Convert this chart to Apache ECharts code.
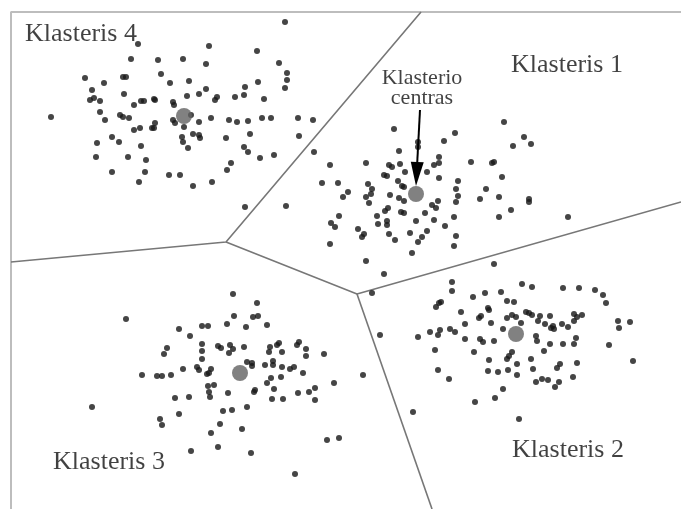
<!DOCTYPE html>
<html>
<head>
<meta charset="utf-8">
<script src="https://cdn.jsdelivr.net/npm/echarts@6/dist/echarts.min.js"></script>
<style>html,body{margin:0;padding:0;background:#fff}#c{width:681px;height:509px}</style>
</head>
<body>
<div id="c"></div>
<script>
// Canvas-like data space: x 0..681, y 0..509 (y downwards)
const cluster1 = [[394,129],[418,142],[418,147],[455,133],[444,141],[504,122],[524,137],[531,144],[513,146],[399,151],[439,157],[439,163],[434,165],[330,165],[366,163],[389,165],[392,167],[400,164],[405,172],[427,172],[471,162],[492,163],[494,162],[384,175],[387,176],[439,178],[502,177],[398,181],[322,183],[338,183],[368,184],[372,189],[371,194],[366,197],[369,203],[348,192],[343,197],[402,186],[404,187],[390,195],[399,198],[404,201],[458,181],[456,189],[458,196],[456,202],[486,189],[480,199],[499,197],[529,199],[529,202],[438,201],[432,205],[436,208],[385,211],[388,208],[401,212],[404,213],[425,213],[377,216],[454,217],[499,217],[511,210],[568,217],[387,221],[387,225],[378,224],[416,221],[434,220],[445,226],[358,229],[364,234],[362,237],[389,234],[395,240],[410,233],[427,231],[422,237],[418,242],[456,236],[454,246],[412,253],[331,223],[335,227],[339,216],[330,244],[366,261],[384,274]];
const cluster2 = [[452,282],[452,291],[522,284],[532,287],[563,288],[579,288],[595,290],[603,295],[606,303],[372,293],[473,297],[485,293],[501,292],[507,301],[514,302],[441,302],[439,303],[436,307],[488,308],[489,310],[461,312],[479,318],[481,316],[512,315],[516,317],[507,318],[526,312],[529,313],[532,315],[540,316],[550,316],[574,314],[577,317],[582,315],[574,321],[538,321],[545,324],[465,324],[491,323],[521,323],[551,328],[553,326],[554,329],[562,324],[568,327],[618,321],[630,322],[619,328],[430,332],[440,330],[438,335],[450,329],[455,332],[418,337],[380,335],[465,339],[480,339],[483,342],[494,341],[503,329],[536,336],[537,341],[550,344],[563,344],[576,338],[574,344],[609,345],[633,361],[435,350],[474,352],[512,352],[509,356],[507,359],[544,351],[489,360],[517,364],[531,359],[560,364],[557,368],[577,363],[438,370],[488,371],[498,372],[508,370],[517,375],[533,369],[449,379],[536,382],[542,379],[548,380],[559,382],[555,387],[573,377],[503,389],[495,398],[475,402],[519,419],[413,412],[494,264]];
const cluster3 = [[233,294],[257,303],[126,319],[234,316],[253,317],[258,316],[179,329],[202,326],[208,326],[227,324],[246,327],[267,325],[190,336],[167,348],[164,354],[202,344],[202,351],[218,346],[221,348],[230,345],[233,349],[229,353],[244,347],[270,347],[277,345],[279,343],[269,352],[282,352],[297,345],[299,342],[306,349],[306,356],[324,354],[202,359],[247,362],[252,363],[252,366],[265,365],[273,361],[273,365],[282,367],[290,369],[294,367],[183,369],[197,367],[199,370],[207,374],[209,373],[211,369],[142,375],[157,376],[162,376],[171,375],[303,373],[271,378],[267,383],[281,377],[274,389],[334,383],[363,375],[208,386],[214,385],[209,392],[210,397],[228,393],[255,390],[254,392],[272,399],[283,399],[298,393],[309,392],[315,388],[315,400],[175,398],[189,397],[92,407],[223,411],[232,410],[247,407],[179,414],[160,419],[162,425],[220,424],[242,429],[211,433],[327,440],[339,438],[191,451],[218,447],[251,453],[295,474]];
const cluster4 = [[285,22],[138,44],[209,46],[257,51],[131,59],[158,60],[183,59],[206,64],[279,63],[287,73],[287,80],[285,88],[85,78],[123,77],[126,77],[104,83],[161,74],[170,83],[189,81],[258,82],[245,87],[92,90],[206,89],[199,94],[124,94],[90,100],[94,98],[100,101],[134,105],[141,101],[144,101],[154,99],[155,100],[173,102],[174,105],[187,96],[215,100],[217,97],[235,97],[244,95],[264,99],[51,117],[100,112],[105,120],[120,115],[123,117],[129,118],[152,128],[154,128],[155,123],[134,130],[140,128],[173,120],[175,123],[184,127],[191,115],[199,122],[211,118],[229,120],[237,122],[248,121],[262,118],[271,118],[298,118],[313,120],[193,134],[199,135],[200,138],[182,137],[183,142],[188,148],[226,138],[250,134],[244,147],[248,152],[260,158],[274,155],[299,136],[314,152],[97,143],[112,137],[119,142],[141,146],[96,157],[128,157],[146,160],[112,172],[145,172],[139,182],[169,175],[180,175],[193,186],[212,182],[231,163],[227,170],[245,207],[286,206]];
const centroids = [[416,194],[516,334],[240,373],[184,116]];
const boundaries = [
  [[421,12],[226,242],[11,262]],
  [[226,242],[357,294],[681,202]],
  [[357,294],[432,509]]
];
const frame = [[681,12],[11,12],[11,509]];
const clusterLabels = ['Klasteris 1','Klasteris 2','Klasteris 3','Klasteris 4'];
const clusterLabelAnchors = [[511,65],[512,450],[53,462],[25,34]];
const centreLabel = 'Klasterio\ncentras';
const centreLabelAnchor = [422,88];
const arrow = [[420,110],[416,186]];

const chart = echarts.init(document.getElementById('c'), null, {renderer:'canvas'});
const lineSeries = (pts, color, width) => ({
  type:'line', data: pts, symbol:'none', silent:true, animation:false,
  lineStyle:{color:color, width:width}, z:1
});
const pointSeries = pts => ({
  type:'scatter', data: pts, symbolSize:6, itemStyle:{color:'#161616'}, animation:false, z:3
});
const series = [
  lineSeries(frame, '#bdbdbd', 2),
  ...boundaries.map(b => lineSeries(b, '#777777', 1.6)),
  pointSeries(cluster1), pointSeries(cluster2), pointSeries(cluster3), pointSeries(cluster4),
  {type:'scatter', data: centroids, symbolSize:16, itemStyle:{color:'#626262'}, animation:false, z:4},
  {type:'scatter', symbolSize:0, animation:false, z:5,
   data: clusterLabels.map((t,i)=>({value:clusterLabelAnchors[i], name:t})),
   label:{show:true, position:[0,0], align:'left', verticalAlign:'middle', formatter:p=>p.name,
     fontFamily:'Liberation Serif', fontSize:26, color:'#111111'}},
  {type:'scatter', symbolSize:0, animation:false, z:5,
   data:[{value:centreLabelAnchor, name:centreLabel}],
   label:{show:true, position:[0,0], align:'center', verticalAlign:'middle', formatter:p=>p.name,
     fontFamily:'Liberation Serif', fontSize:22, lineHeight:20, color:'#111111'}},
  {type:'custom', animation:false, z:6, data:[[0]],
   renderItem:(params, api) => {
     const a = api.coord(arrow[0]), b = api.coord(arrow[1]);
     const dx=b[0]-a[0], dy=b[1]-a[1], L=Math.hypot(dx,dy), ux=dx/L, uy=dy/L;
     const hl=24, hw=6.5;
     const bx=b[0]-ux*hl, by=b[1]-uy*hl;
     return {type:'group', children:[
       {type:'line', shape:{x1:a[0],y1:a[1],x2:bx,y2:by}, style:{stroke:'#000', lineWidth:2}},
       {type:'polygon', shape:{points:[[b[0],b[1]],[bx-uy*hw,by+ux*hw],[bx+uy*hw,by-ux*hw]]}, style:{fill:'#000'}}
     ]};
   }}
];
chart.setOption({
  animation:false,
  backgroundColor:'#fff',
  grid:{left:0,right:0,top:0,bottom:0},
  xAxis:{type:'value', min:0, max:681, show:false},
  yAxis:{type:'value', min:0, max:509, inverse:true, show:false},
  series: series
});
</script>
</body>
</html>
